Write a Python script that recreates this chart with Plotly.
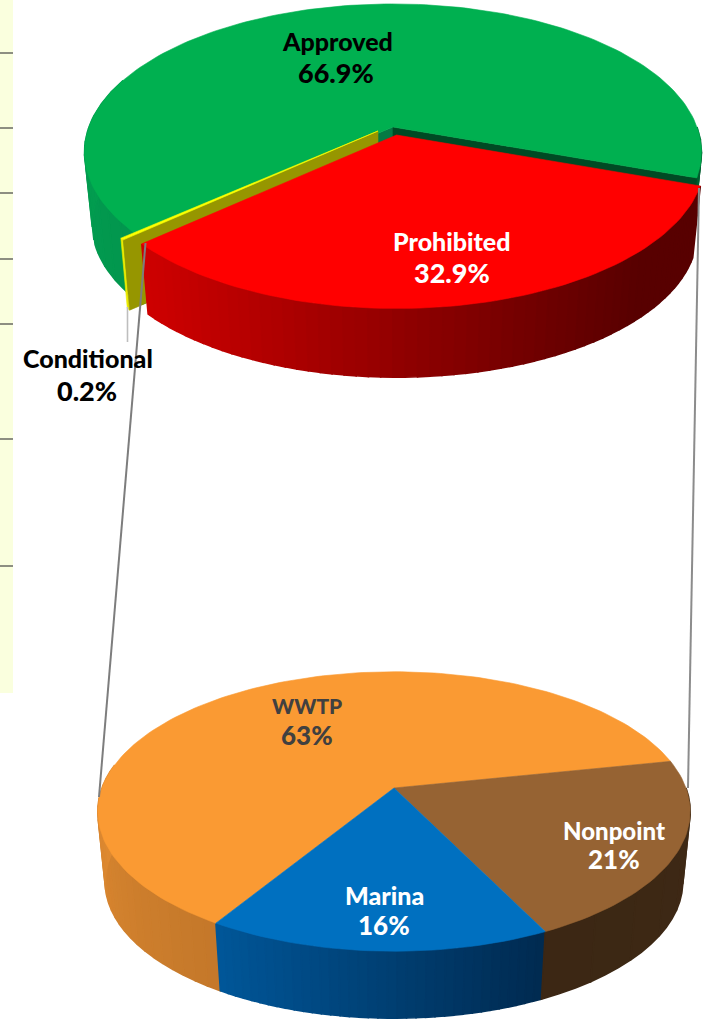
import math
import plotly.graph_objects as go

# ---- data ----
top_labels = ["Prohibited", "Conditional", "Approved"]
top_values = [32.9, 0.2, 66.9]
bottom_labels = ["Nonpoint", "Marina", "WWTP"]
bottom_values = [21, 16, 63]
panel_ticks = [53, 128, 193, 259, 324, 439, 566]

W, H = 707, 1019
fig = go.Figure()
layout_shapes = []


def poly(xs, ys, color, lw=0.6):
    fig.add_trace(go.Scatter(x=xs, y=ys, mode="lines", fill="toself", fillcolor=color,
                             line=dict(width=lw, color=color), hoverinfo="skip", showlegend=False))


def line(xs, ys, color, width):
    fig.add_trace(go.Scatter(x=xs, y=ys, mode="lines", line=dict(width=width, color=color),
                             hoverinfo="skip", showlegend=False))


class Pie:
    """Circle seen in perspective; theta grows clockwise on screen."""
    def __init__(self, px, py, A, B, k, h, s=0.975):
        self.px, self.py, self.A, self.B, self.k, self.h, self.s = px, py, A, B, k, h, s

    def rim(self, th, off=(0, 0)):
        u, v = math.cos(math.radians(th)), math.sin(math.radians(th))
        w = 1 - self.k * v
        return self.px + off[0] + self.A * u / w, self.py + off[1] + self.B * v / w

    def low(self, th, off=(0, 0)):
        x, y = self.rim(th, off)
        cx, cy = self.px + off[0], self.py + off[1]
        return cx + self.s * (x - cx), cy + self.s * (y - cy) + self.h

    def apex(self, off=(0, 0)):
        return self.px + off[0], self.py + off[1]

    def apex_low(self, off=(0, 0)):
        return self.px + off[0], self.py + off[1] + self.h

    def top(self, t0, t1, color, off=(0, 0)):
        n = max(3, int(abs(t1 - t0) / 1.5))
        pts = [self.rim(t0 + (t1 - t0) * i / n, off) for i in range(n + 1)]
        pts = [self.apex(off)] + pts + [self.apex(off)]
        poly([p[0] for p in pts], [p[1] for p in pts], color)

    def wall(self, t0, t1, c0, c1, off=(0, 0), strips=36, xr=None):
        """Side wall; the shade runs left to right across screen x between xr[0] and xr[1]."""
        for i in range(strips):
            a, b = t0 + (t1 - t0) * i / strips, t0 + (t1 - t0) * (i + 1) / strips
            if xr:
                xm = self.rim((a + b) / 2, off)[0]
                f = min(1, max(0, (xm - xr[0]) / (xr[1] - xr[0])))
            else:
                f = (i + 0.5) / strips
            col = "rgb(%d,%d,%d)" % tuple(round(c0[j] + (c1[j] - c0[j]) * f) for j in range(3))
            n = 3
            up = [self.rim(a + (b - a) * m / n, off) for m in range(n + 1)]
            dn = [self.low(b - (b - a) * m / n, off) for m in range(n + 1)]
            pts = up + dn + [up[0]]
            poly([p[0] for p in pts], [p[1] for p in pts], col, lw=1.6 if strips > 1 else 0.6)

    def face(self, th, color, off=(0, 0)):
        a, r, rl, al = self.apex(off), self.rim(th, off), self.low(th, off), self.apex_low(off)
        poly([a[0], r[0], rl[0], al[0], a[0]], [a[1], r[1], rl[1], al[1], a[1]], color)


def spans(values, start):
    out, cur = [], start
    total = sum(values)
    for v in values:
        out.append((cur, cur + 360 * v / total))
        cur += 360 * v / total
    return out


# ---- upper pie ----
up = Pie(393, 127, 304, 144, 0.17, 73)
(r0, r1), (y0, y1), (g0, g1) = spans(top_values, 19.5)
red_off, yel_off = (3.5, 8), (-15, 4)

up.wall(y1, 200, (2, 150, 78), (2, 160, 80), strips=12)
up.wall(0, r0, (0, 110, 55), (0, 90, 45), strips=4)
up.face(y1, "rgb(5,122,68)")
up.face(r0 + 360, "rgb(0,74,36)")
up.top(g0, g1, "#00B050")
up.wall(r1, y1, (235, 235, 0), (235, 235, 0), yel_off, strips=1)
up.face(r1, "rgb(150,150,0)", yel_off)
up.top(y0, y1, "#FFFF00", yel_off)
up.wall(r1, r0, (205, 0, 0), (88, 0, 0), red_off, strips=60, xr=(150, 640))
up.top(r0, r1, "#FF0000", red_off)

# ---- lower pie ----
lo = Pie(394, 788, 292, 135.8, 0.168, 71)
(n0, n1), (m0, m1), (w0, w1) = spans(bottom_values, -11.7)
lo.wall(m1, 190, (196, 120, 42), (226, 140, 50), strips=24)
lo.wall(m1, m0, (0, 86, 152), (0, 42, 80), strips=36, xr=(218, 545))
lo.wall(m0, 0, (60, 39, 20), (62, 41, 21), strips=6)
lo.top(w0, w1, "#FA9A33")
lo.top(n0, n1, "#966333")
lo.top(m0, m1, "#0070C0")

# ---- leader lines ----
line([145.5, 99], [243, 797], "rgb(125,125,125)", 2)
line([699, 688], [188, 788], "rgb(140,140,140)", 2)
line([127.5, 127.5], [307, 342], "rgb(190,190,190)", 1.6)


# ---- labels ----
def text(s, x, y, size, color):
    fig.add_annotation(x=x, y=y, text=s, showarrow=False,
                       font=dict(family="Lato", size=size, color=color, weight=900),
                       xanchor="center", yanchor="middle")


def label(name, pct, x, yn, xp, yp, sn, sp, color):
    text(name, x, yn, sn, color)
    text(f"{pct}%", xp, yp, sp, color)


label(top_labels[2], top_values[2], 337, 41, 336, 72, 25, 27, "#000000")
label(top_labels[0], top_values[0], 452, 241, 452, 272, 25, 27, "#FFFFFF")
label(top_labels[1], top_values[1], 88, 358, 87, 390, 25, 27, "#000000")
label(bottom_labels[2], bottom_values[2], 307, 705, 307, 735, 21, 26, "#404040")
label(bottom_labels[0], bottom_values[0], 614, 830, 614, 859, 24, 26, "#FFFFFF")
label(bottom_labels[1], bottom_values[1], 384, 895, 384, 925, 25, 26, "#FFFFFF")

# ---- side panel ----
layout_shapes.append(dict(type="rect", x0=0, x1=13, y0=0, y1=693, fillcolor="#FAFFDE",
                          line=dict(width=0), layer="below"))
for t in panel_ticks:
    layout_shapes.append(dict(type="line", x0=0, x1=13, y0=t, y1=t,
                              line=dict(width=1.2, color="#444444"), layer="below"))

fig.update_layout(
    width=W, height=H, margin=dict(l=0, r=0, t=0, b=0), autosize=False,
    paper_bgcolor="white", plot_bgcolor="white", showlegend=False, shapes=layout_shapes,
    xaxis=dict(range=[0, W], visible=False, fixedrange=True),
    yaxis=dict(range=[H, 0], visible=False, fixedrange=True),
)
fig.write_html("out.html", config={"displayModeBar": False},
               post_script="document.body.style.margin='0';document.body.style.overflow='hidden';")
